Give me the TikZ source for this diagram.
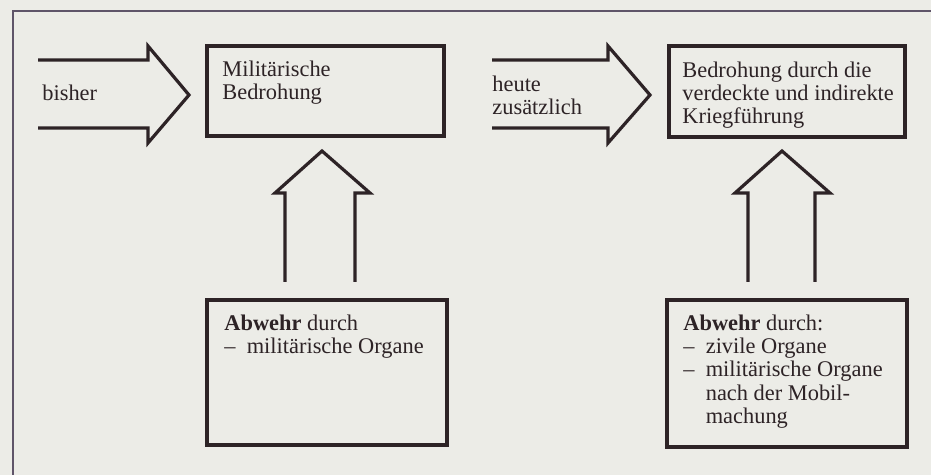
\documentclass[tikz,border=0pt]{standalone}
\usepackage{fontspec}
\setmainfont{Liberation Serif}
\usepackage{tikz}
\usetikzlibrary{positioning}
\definecolor{paper}{RGB}{236,236,231}
\definecolor{ink}{RGB}{45,35,38}
\definecolor{framecol}{RGB}{95,85,105}

\begin{document}
\begin{tikzpicture}[x=0.5pt,y=-0.5pt,
	every node/.style={font=\fontsize{11.2pt}{11.6pt}\selectfont,text=ink},
	box/.style={rectangle,draw=ink,line width=1.8pt,anchor=north west,inner sep=0pt,outer sep=0pt},
	box text/.style={anchor=north west,inner sep=0pt,align=left},
	block arrow/.style={draw=ink,line width=1.6pt}]

	\fill[paper] (0,0) rectangle (931,475);
	\useasboundingbox (0,0) rectangle (931,475);
	\draw[framecol,line width=0.8pt] (931,11) -- (13,11) -- (13,475);

	% boxes
	\node[box,minimum width=118.5pt,minimum height=45pt] (mil) at (207,46) {};
	\node[box,minimum width=118pt,minimum height=45.5pt] (verd) at (669,46) {};
	\node[box,minimum width=120pt,minimum height=72.5pt] (abw1) at (207,300) {};
	\node[box,minimum width=120pt,minimum height=73.5pt] (abw2) at (667,300) {};

	\node[box text,below right=7.25pt and 7.5pt of mil.north west] (milT) {Militärische\\Bedrohung};
	\node[box text,below right=7.75pt and 6.5pt of verd.north west] (verdT) {Bedrohung durch die\\verdeckte und indirekte\\Kriegführung};
	\node[box text,below right=7.25pt and 8.5pt of abw1.north west] (abw1T) {\textbf{Abwehr} durch\\\makebox[1em][l]{–}militärische Organe};
	\node[box text,below right=7.25pt and 8pt of abw2.north west] (abw2T) {\textbf{Abwehr} durch:\\\makebox[1em][l]{–}zivile Organe\\\makebox[1em][l]{–}militärische Organe\\\hspace*{1em}nach der Mobil-\\\hspace*{1em}machung};

	\node[anchor=base west,inner sep=0pt] (bisher) at (42,101) {bisher};
	\node[box text] (heute) at (492,75.5) {heute\\zusätzlich};

	% arrows
	\draw[block arrow] ([shift={(-169,-31)}]mil.west) -- ++(110,0) -- ++(0,-14)
		-- ([shift={(-18,4)}]mil.west) -- ++(-41,48) -- ++(0,-15) -- ++(-110,0);
	\draw[block arrow] ([shift={(-177,-31.5)}]verd.west) -- ++(116,0) -- ++(0,-14)
		-- ([shift={(-19,3.5)}]verd.west) -- ++(-42,48) -- ++(0,-15) -- ++(-116,0);
	\draw[block arrow] ([shift={(-42,-18)}]abw1.north) -- ++(0,-89) -- ++(-10,0)
		-- ([shift={(-3.5,15)}]mil.south) -- ++(48,42) -- ++(-15,0) -- ++(0,89);
	\draw[block arrow] ([shift={(-39,-18)}]abw2.north) -- ++(0,-89) -- ++(-13,0)
		-- ([shift={(-5,14)}]verd.south) -- ++(48,42) -- ++(-15,0) -- ++(0,89);
\end{tikzpicture}
\end{document}
